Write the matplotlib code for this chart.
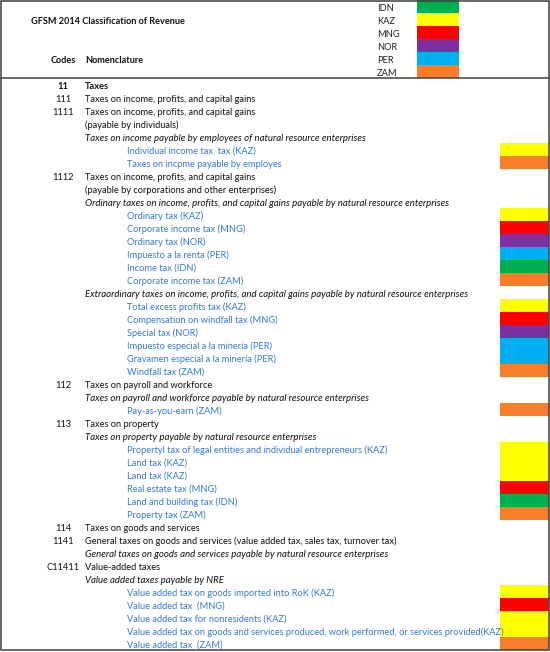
import matplotlib
matplotlib.use("Agg")
import matplotlib.pyplot as plt
from matplotlib.patches import Rectangle

# ---------------- data ----------------
title = "GFSM 2014 Classification of Revenue"
col_codes = "Codes"
col_nomen = "Nomenclature"

countries = ["IDN", "KAZ", "MNG", "NOR", "PER", "ZAM"]
country_colors = ["#00B050", "#FFFF00", "#FF0000", "#7F2FA0", "#00B0F0", "#F97E2B"]

codes = ["11", "111", "1111", "", "", "", "", "1112", "", "",
         "", "", "", "", "", "", "", "", "", "",
         "", "", "", "112", "", "", "113", "", "", "",
         "", "", "", "", "114", "1141", "", "C11411", "", "",
         "", "", "", ""]

labels = [
    "Taxes",
    "Taxes on income, profits, and capital gains",
    "Taxes on income, profits, and capital gains",
    "(payable by individuals)",
    "Taxes on income payable by employees of natural resource enterprises",
    "Individual income tax  tax (KAZ)",
    "Taxes on incpme payable by employes",
    "Taxes on income, profits, and capital gains",
    "(payable by corporations and other enterprises)",
    "Ordinary taxes on income, profits, and capital gains payable by natural resource enterprises",
    "Ordinary tax (KAZ)",
    "Corporate income tax (MNG)",
    "Ordinary tax (NOR)",
    "Impuesto a la renta (PER)",
    "Income tax (IDN)",
    "Corporate income tax (ZAM)",
    "Extraordinary taxes on income, profits, and capital gains payable by natural resource enterprises",
    "Total excess profits tax (KAZ)",
    "Compensation on windfall tax (MNG)",
    "Special tax (NOR)",
    "Impuesto especial a la minería (PER)",
    "Gravamen especial a la minería (PER)",
    "Windfall tax (ZAM)",
    "Taxes on payroll and workforce",
    "Taxes on payroll and workforce payable by natural resource enterprises",
    "Pay-as-you-earn (ZAM)",
    "Taxes on property",
    "Taxes on property payable by natural resource enterprises",
    "Propertyl tax of legal entities and individual entrepreneurs (KAZ)",
    "Land tax (KAZ)",
    "Land tax (KAZ)",
    "Real estate tax (MNG)",
    "Land and building tax (IDN)",
    "Property tax (ZAM)",
    "Taxes on goods and services",
    "General taxes on goods and services (value added tax, sales tax, turnover tax)",
    "General taxes on goods and services payable by natural resource enterprises",
    "Value-added taxes",
    "Value added taxes payable by NRE",
    "Value added tax on goods imported into RoK (KAZ)",
    "Value added tax  (MNG)",
    "Value added tax for nonresidents (KAZ)",
    "Value added tax on goods and services produced, work performed, or services provided(KAZ)",
    "Value added tax  (ZAM)",
]

# row kind: 0 heading, 1 classification line, 2 NRE sub-category, 3 country tax item
kinds = [0, 1, 1, 1, 2, 3, 3, 1, 1, 2,
         3, 3, 3, 3, 3, 3, 2, 3, 3, 3,
         3, 3, 3, 1, 2, 3, 1, 2, 3, 3,
         3, 3, 3, 3, 1, 1, 2, 1, 2, 3,
         3, 3, 3, 3]

row_country = [None, None, None, None, None, "KAZ", "ZAM", None, None, None,
               "KAZ", "MNG", "NOR", "PER", "IDN", "ZAM", None, "KAZ", "MNG", "NOR",
               "PER", "PER", "ZAM", None, None, "ZAM", None, None, "KAZ", "KAZ",
               "KAZ", "MNG", "IDN", "ZAM", None, None, None, None, None, "KAZ",
               "MNG", "KAZ", "KAZ", "ZAM"]

# ---------------- layout ----------------
W, H = 550, 652
ROW = 13.0
TOP = 78.3  # pixel y of the header rule
FONT = "Lato"
FS = 6.7
FS_ITAL = 6.95
FS_ITEM = 6.65
FS_HEAD = 6.6
BLUE = "#3579D5"
BORDER = "#404040"
DY = 0.12

fig = plt.figure(figsize=(W / 100, H / 100), dpi=100)
ax = fig.add_axes([0, 0, 1, 1])
ax.set_xlim(0, W)
ax.set_ylim((H - TOP) / ROW, -TOP / ROW)
ax.axis("off")

cmap = dict(zip(countries, country_colors))

# header legend
n_c = len(countries)
for i, (c, col) in enumerate(zip(countries, country_colors)):
    y = -n_c + i + 0.5
    ax.barh(y, 42, left=417, height=1.0, color=col, linewidth=0)
    ax.text(377, y + DY, c, fontsize=FS, family=FONT, color="#222222",
            ha="left", va="center")

ax.text(31, -4.5 + DY, title, fontsize=FS_HEAD, family=FONT, weight="bold",
        color="#111111", ha="left", va="center")
ax.text(63, -1.5 + DY, col_codes, fontsize=FS_HEAD, family=FONT, weight="bold",
        color="#111111", ha="center", va="center")
ax.text(85, -1.5 + DY, col_nomen, fontsize=FS_HEAD, family=FONT, weight="bold",
        color="#111111", ha="left", va="center")

# body
for i, (code, lab, k, ctry) in enumerate(zip(codes, labels, kinds, row_country)):
    y = i + 0.5
    if code:
        ax.text(63, y + DY, code, fontsize=FS, family=FONT,
                weight="bold" if k == 0 else "normal", color="#111111",
                ha="center", va="center")
    if k == 0:
        ax.text(85, y + DY, lab, fontsize=FS, family=FONT, weight="bold",
                color="#111111", ha="left", va="center")
    elif k == 1:
        ax.text(85, y + DY, lab, fontsize=FS, family=FONT,
                color="#111111", ha="left", va="center")
    elif k == 2:
        ax.text(85, y + DY, lab, fontsize=FS_ITAL, family=FONT, style="italic",
                color="#111111", ha="left", va="center")
    else:
        ax.text(127, y + DY, lab, fontsize=FS_ITEM, family=FONT,
                color=BLUE, ha="left", va="center")
    if ctry is not None:
        ax.barh(y, 48.7, left=500, height=1.0, color=cmap[ctry], linewidth=0)

# borders
y_top = -TOP / ROW + 0.05
y_bot = len(labels) + 0.0
ax.add_patch(Rectangle((1, y_top), 547.7, y_bot - y_top, fill=False,
                       edgecolor=BORDER, linewidth=1.1, zorder=5))
ax.plot([1, 548.7], [0, 0], color=BORDER, linewidth=1.1, zorder=5)

fig.savefig("out.png", dpi=100)
